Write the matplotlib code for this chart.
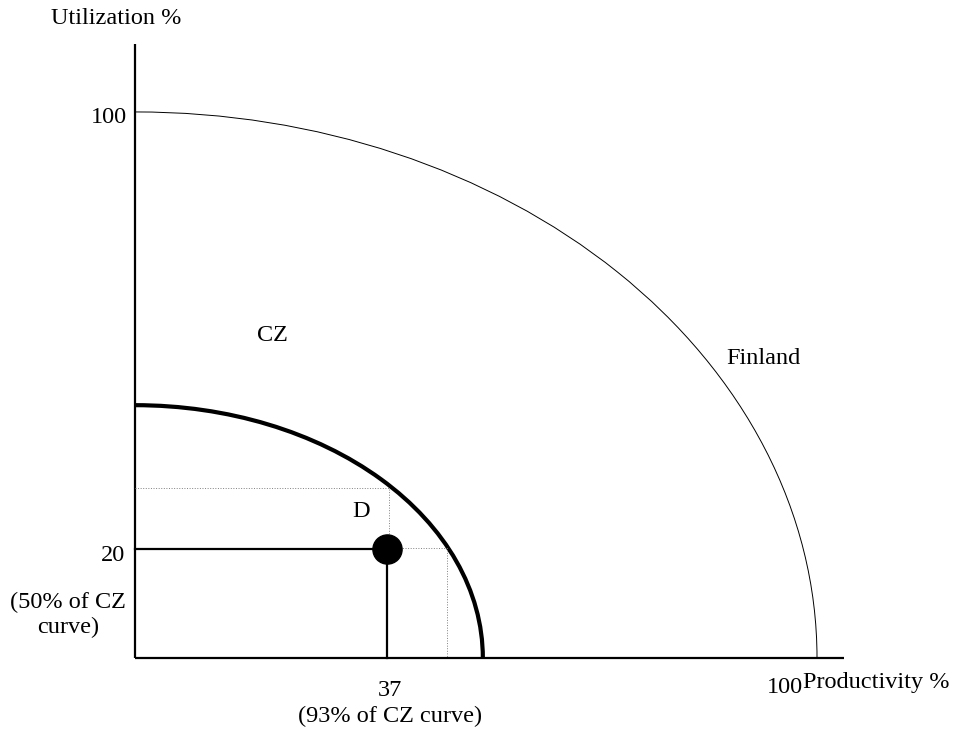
import matplotlib
matplotlib.use("Agg")
import matplotlib.pyplot as plt
from matplotlib.patches import Arc

# Curve radii (productivity, utilization)
finland_radius = (100, 100)
cz_radius = (51, 46.3)

# Point D and helper lines
d_point = (37, 20)
cz_at_d_x = (37.2, 31.1)   # CZ curve straight above D
cz_at_d_y = (45.7, 20.2)   # CZ curve straight right of D

# Axis ends
x_axis_end = 104
y_axis_end = 112.5

plt.rcParams['font.family'] = ['Liberation Serif', 'DejaVu Serif']

fig = plt.figure(figsize=(9.65, 7.31), dpi=100)
ax = fig.add_axes([0, 0, 1, 1])
ax.set_xlim(-19.8, 121.7)
ax.set_ylim(-13.37, 120.5)
ax.axis('off')

# Axes
ax.plot([0, x_axis_end], [0, 0], color='black', lw=1.6, solid_capstyle='butt')
ax.plot([0, 0], [0, y_axis_end], color='black', lw=1.6, solid_capstyle='butt')

# Curves
ax.add_patch(Arc((0, 0), 2 * finland_radius[0], 2 * finland_radius[1],
                 theta1=0, theta2=90, color='black', lw=0.7))
ax.add_patch(Arc((0, 0), 2 * cz_radius[0], 2 * cz_radius[1],
                 theta1=0, theta2=90, color='black', lw=3))

# Dotted guides
ax.plot([0, cz_at_d_x[0], cz_at_d_x[0]], [cz_at_d_x[1], cz_at_d_x[1], d_point[1]],
        color='grey', lw=0.7, ls=':')
ax.plot([d_point[0], cz_at_d_y[0], cz_at_d_y[0]], [cz_at_d_y[1], cz_at_d_y[1], 0],
        color='grey', lw=0.7, ls=':')

# Solid lines to D
ax.plot([0, d_point[0], d_point[0]], [d_point[1], d_point[1], 0], color='black', lw=1.6)
ax.plot(d_point[0], d_point[1], 'o', color='black', markersize=21)

fs = 17.5
kw = dict(fontsize=fs, va='baseline')
ax.text(-2.7, 116.1, 'Utilization %', ha='center', **kw)
ax.text(-1.2, 98.0, '100', ha='right', **kw)
ax.text(-1.4, 17.8, '20', ha='right', **kw)
ax.text(-9.8, 9.1, '(50% of CZ', ha='center', **kw)
ax.text(-9.8, 4.5, 'curve)', ha='center', **kw)
ax.text(37.4, -7.0, '37', ha='center', **kw)
ax.text(37.4, -11.7, '(93% of CZ curve)', ha='center', **kw)
ax.text(97.9, -6.5, '100', ha='right', **kw)
ax.text(97.9, -5.55, 'Productivity %', ha='left', **kw)
ax.text(20.1, 58.0, 'CZ', ha='center', **kw)
ax.text(92.1, 53.8, 'Finland', ha='center', **kw)
ax.text(33.2, 25.9, 'D', ha='center', **kw)

fig.savefig('out.png', dpi=100)
